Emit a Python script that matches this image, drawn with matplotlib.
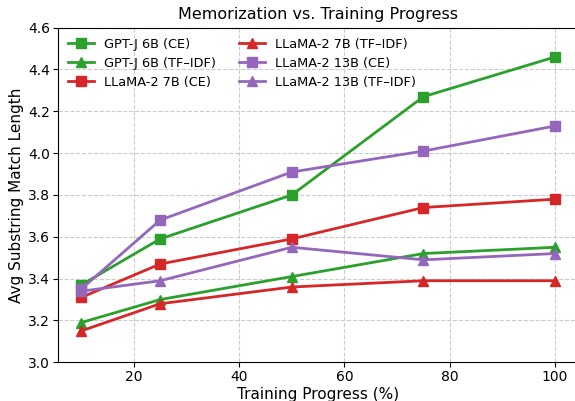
import matplotlib
matplotlib.use("Agg")
import matplotlib.pyplot as plt

progress = [10, 25, 50, 75, 100]
gptj_ce = [3.37, 3.59, 3.80, 4.27, 4.46]
gptj_tfidf = [3.19, 3.30, 3.41, 3.52, 3.55]
llama7_ce = [3.31, 3.47, 3.59, 3.74, 3.78]
llama7_tfidf = [3.15, 3.28, 3.36, 3.39, 3.39]
llama13_ce = [3.35, 3.68, 3.91, 4.01, 4.13]
llama13_tfidf = [3.34, 3.39, 3.55, 3.49, 3.52]

green = "#2ca02c"
red = "#d62728"
purple = "#9467bd"

fig = plt.figure(figsize=(5.75, 4.01), dpi=100)
ax = fig.add_axes([0.1, 0.0965, 0.9065, 0.8345])

series = [
    ("GPT-J 6B (CE)", gptj_ce, green, "s"),
    ("GPT-J 6B (TF\u2013IDF)", gptj_tfidf, green, "^"),
    ("LLaMA-2 7B (CE)", llama7_ce, red, "s"),
    ("LLaMA-2 7B (TF\u2013IDF)", llama7_tfidf, red, "^"),
    ("LLaMA-2 13B (CE)", llama13_ce, purple, "s"),
    ("LLaMA-2 13B (TF\u2013IDF)", llama13_tfidf, purple, "^"),
]
for label, vals, c, m in series:
    ax.plot(progress, vals, color=c, marker=m, markersize=7, linewidth=2, label=label)

ax.set_xlim(5.5, 104.5)
ax.set_ylim(3.0, 4.6)
ax.set_xticks([20, 40, 60, 80, 100])
ax.set_yticks([3.0, 3.2, 3.4, 3.6, 3.8, 4.0, 4.2, 4.4, 4.6])
ax.grid(True, linestyle="--", color="#cccccc", linewidth=0.8)
ax.set_axisbelow(True)
ax.set_xlabel("Training Progress (%)", fontsize=11, labelpad=2)
ax.set_ylabel("Avg Substring Match Length", fontsize=11, labelpad=3)
ax.set_title("Memorization vs. Training Progress", fontsize=11.5)
ax.tick_params(labelsize=10, pad=2)
ax.legend(ncol=2, frameon=False, loc="upper left", fontsize=9.3,
          handlelength=2, columnspacing=1.8, borderaxespad=0.4, labelspacing=0.45)

fig.savefig("out.png", dpi=100)
